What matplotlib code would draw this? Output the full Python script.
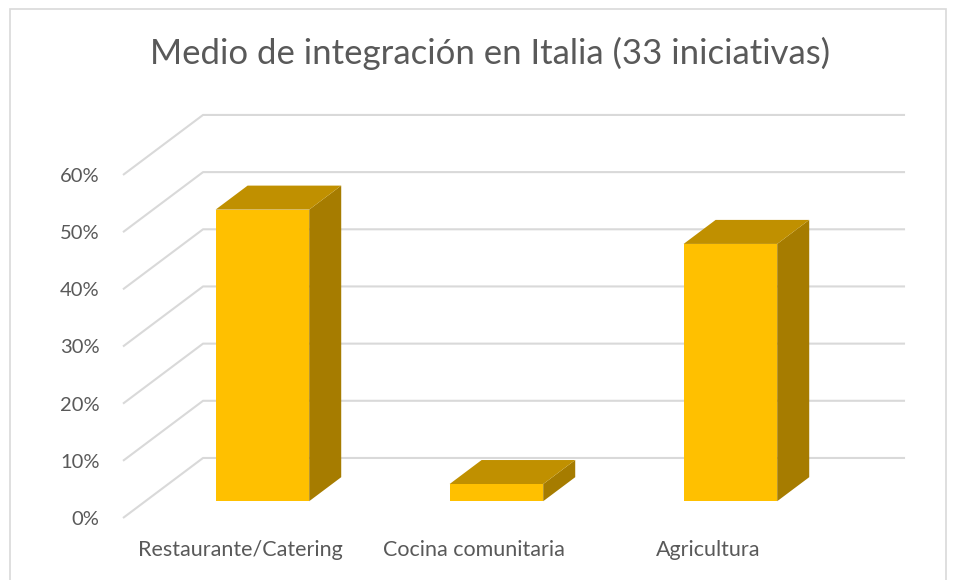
import matplotlib.pyplot as plt
from matplotlib.patches import Polygon, Rectangle

# data: share of the 33 initiatives by integration channel
categories = ['Restaurante/Catering', 'Cocina comunitaria', 'Agricultura']
shares = [51.0, 3.0, 45.0]
ticks = [0, 10, 20, 30, 40, 50, 60]

FRONT = '#FFC000'
TOP = '#C09000'
SIDE = '#A67C00'
GRID = '#D9D9D9'
TEXT = '#595959'

# fake 3d: depth of the whole floor as an offset in data units
DX, DY = 0.342, 10.5
BAR_W = 0.4
D0, D1 = 0.28, 0.68   # bar front/back as fraction of the depth

plt.rcParams['font.family'] = ['Lato', 'DejaVu Sans']

fig = plt.figure(figsize=(9.57, 5.8), dpi=100)
fig.patches.append(Rectangle((10/957, -0.01), 936/957, 1 - 9/580 + 0.01,
                             transform=fig.transFigure, fill=False,
                             edgecolor=GRID, lw=1.2))

ax = fig.add_axes([123/957, 62/580, 702/957, 400.2/580])
ax.set_xlim(0, 3)
ax.set_ylim(0, 70)
for s in ax.spines.values():
    s.set_visible(False)

# back wall grid + diagonals on the side
for v in ticks:
    ax.plot([0, DX, 3 + DX], [v, v + DY, v + DY], color=GRID, lw=1.5,
            clip_on=False, zorder=1, solid_capstyle='butt')

# the bars, each as three faces
for i, val in enumerate(shares):
    x0 = i + 0.5 - BAR_W / 2 + DX * D0
    x1 = x0 + BAR_W
    y0 = DY * D0
    y1 = y0 + val
    ddx = DX * (D1 - D0)
    ddy = DY * (D1 - D0)
    ax.add_patch(Polygon([(x1, y0), (x1 + ddx, y0 + ddy), (x1 + ddx, y1 + ddy), (x1, y1)],
                         closed=True, facecolor=SIDE, edgecolor='none', clip_on=False, zorder=3))
    ax.add_patch(Polygon([(x0, y1), (x1, y1), (x1 + ddx, y1 + ddy), (x0 + ddx, y1 + ddy)],
                         closed=True, facecolor=TOP, edgecolor='none', clip_on=False, zorder=3))
    ax.add_patch(Rectangle((x0, y0), BAR_W, val, facecolor=FRONT, edgecolor='none',
                           clip_on=False, zorder=4))

ax.set_yticks(ticks)
ax.set_yticklabels([f'{t}%' for t in ticks])
ax.set_xticks([0.5, 1.5, 2.5])
ax.set_xticklabels(categories)
ax.tick_params(length=0, labelcolor=TEXT)
ax.tick_params(axis='y', pad=17, labelsize=14.5)
ax.tick_params(axis='x', pad=16, labelsize=15.5)

fig.text(490/957, 1 - 53/580, 'Medio de integración en Italia (33 iniciativas)',
         ha='center', va='center', fontsize=25, color=TEXT)

fig.savefig('out.png', dpi=100)
